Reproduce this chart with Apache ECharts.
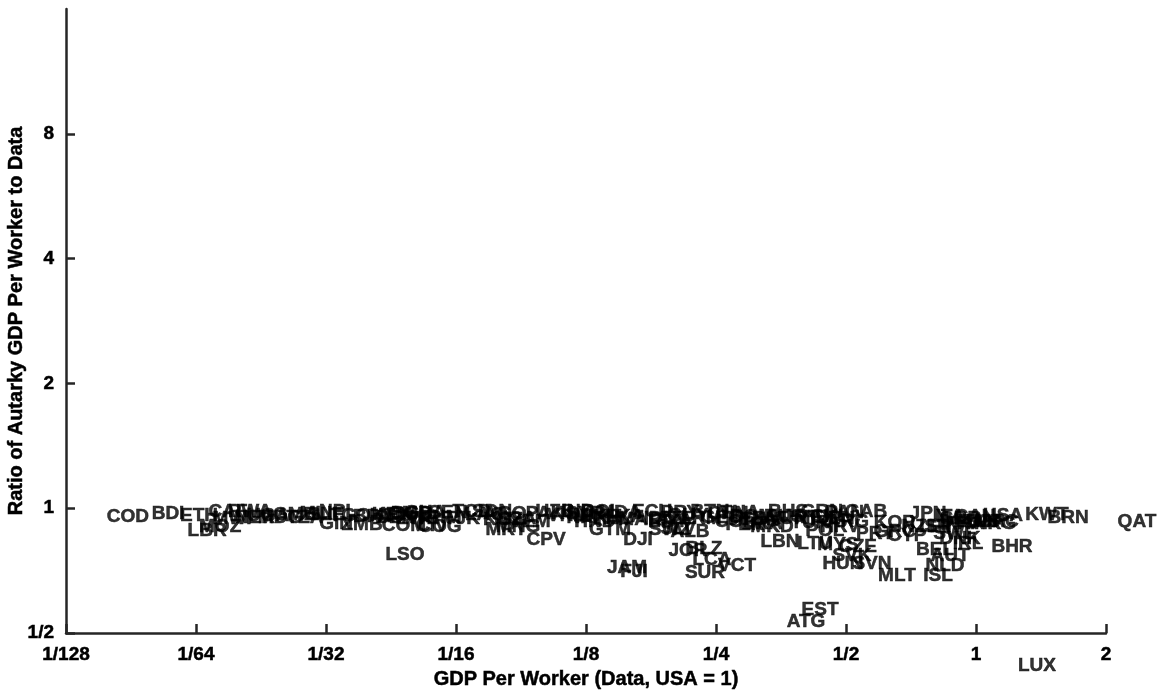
<!DOCTYPE html>
<html>
<head>
<meta charset="utf-8">
<script src="https://cdn.jsdelivr.net/npm/echarts@6/dist/echarts.min.js"></script>
<style>
html,body{margin:0;padding:0;background:#fff;}
#chart{width:1167px;height:696px;}
</style>
</head>
<body>
<div id="chart"></div>
<script>
// Country codes
const codes = ["COD","BDI","ETH","LBR","MOZ","CAF","MWI","RWA","NER","UGA","MDG","GMB","TZA","MLI","SLE","NPL","GIN","TGO","ZMB","BFA","HTI","BEN","KEN","CMR","COM","BGD","ZWE","GHA","CIV","KHM","SEN","LSO","TJK","TCD","LAO","SDN","KGZ","MRT","NGA","MNG","YEM","PAK","CPV","UZB","VNM","IND","NIC","HND","BOL","PHL","GTM","DJI","LKA","MAR","ECU","IDN","EGY","PRY","GUY","SLV","ARM","BTN","JOR","BLZ","LCA","VCT","SUR","JAM","FJI","SWZ","ALB","GEO","COL","PER","DOM","TUN","CHN","THA","BRA","MKD","LBN","BHS","RUS","ZAF","URY","TUR","MEX","GRN","LTU","MYS","CZE","POL","HRV","VEN","ARG","CHL","PAN","GAB","SVK","HUN","SVN","MLT","PRT","GRC","KOR","CYP","NZL","ISR","JPN","BEL","NLD","ISL","IRL","AUT","DNK","SWE","FIN","FRA","GBR","ITA","DEU","CAN","AUS","SGP","HKG","MAC","USA","KWT","BRN","QAT","BHR","EST","ATG","LUX","AGO","COG","SYR","UKR","MDA","AZE"];
// GDP per worker (data, USA = 1)
const gdpPerWorker = [0.01087,0.01346,0.01588,0.01658,0.01777,0.01853,0.01894,0.02083,0.02140,0.02294,0.02445,0.02650,0.02794,0.02963,0.03125,0.03332,0.03297,0.03554,0.03787,0.03994,0.04281,0.04515,0.04444,0.04890,0.04737,0.04944,0.05106,0.05300,0.05497,0.05738,0.05988,0.04763,0.06450,0.06806,0.07294,0.07575,0.08031,0.08163,0.08563,0.08700,0.09275,0.1005,0.1010,0.1060,0.1136,0.1198,0.1230,0.1311,0.1354,0.1436,0.1421,0.1649,0.1539,0.1667,0.1778,0.1855,0.1936,0.2063,0.2154,0.2042,0.2295,0.2421,0.2154,0.2345,0.2447,0.2797,0.2357,0.1555,0.1615,0.1956,0.2176,0.2580,0.2765,0.2918,0.3030,0.3160,0.2665,0.2843,0.3195,0.3370,0.3516,0.3670,0.3592,0.3333,0.3912,0.4126,0.4240,0.4398,0.4240,0.4790,0.5330,0.4469,0.4843,0.4714,0.5053,0.4590,0.4962,0.5563,0.5161,0.4920,0.5743,0.6560,0.5836,0.6491,0.6491,0.6922,0.7419,0.8039,0.7744,0.8039,0.8479,0.8168,0.9582,0.8706,0.9182,0.8939,0.8479,0.9428,0.9182,0.8706,0.9182,0.9947,1.0216,1.0492,1.1066,1.1184,1.1548,1.4601,1.6335,2.359,1.2116,0.4353,0.4040,1.3843,0.08113,0.05738,0.1243,0.1348,0.1499,0.2010];
// Ratio of autarky GDP per worker to data
const autarkyRatio = [0.951,0.967,0.957,0.880,0.900,0.983,0.941,0.983,0.946,0.957,0.946,0.962,0.946,0.967,0.962,0.983,0.915,0.957,0.910,0.951,0.957,0.946,0.962,0.967,0.905,0.967,0.941,0.973,0.905,0.946,0.973,0.771,0.941,0.983,0.962,0.983,0.936,0.885,0.941,0.900,0.930,0.967,0.837,0.978,0.957,0.978,0.946,0.930,0.983,0.941,0.885,0.837,0.951,0.936,0.983,0.941,0.930,0.973,0.957,0.890,0.941,0.983,0.788,0.797,0.749,0.725,0.697,0.717,0.701,0.885,0.875,0.946,0.930,0.910,0.951,0.936,0.967,0.973,0.915,0.900,0.828,0.983,0.951,0.941,0.941,0.920,0.946,0.983,0.819,0.815,0.806,0.880,0.900,0.941,0.930,0.951,0.973,0.983,0.766,0.733,0.733,0.686,0.866,0.875,0.920,0.856,0.900,0.900,0.967,0.792,0.725,0.686,0.819,0.766,0.842,0.866,0.900,0.915,0.941,0.951,0.930,0.951,0.930,0.930,0.915,0.930,0.957,0.962,0.946,0.930,0.806,0.568,0.531,0.417,0.967,0.900,0.967,0.951,0.973,0.941];
// Tick values
const xTicks = [1/128,1/64,1/32,1/16,1/8,1/4,1/2,1,2];
const yTicks = [1/2,1,2,4,8];

const FONT = "'Liberation Sans', Arial, Helvetica, sans-serif";
const TXT = { fontFamily: FONT, fontWeight: 'bold', color: '#000', textBorderColor: '#000', textBorderWidth: 0.5 };
function frac(v){
  if (v >= 1) return String(Math.round(v));
  return '1/' + Math.round(1 / v);
}
const points = codes.map((c, i) => ({ name: c, value: [gdpPerWorker[i], autarkyRatio[i]] }));

const chart = echarts.init(document.getElementById('chart'), null, { renderer: 'canvas' });
chart.setOption({
  animation: false,
  backgroundColor: '#ffffff',
  grid: { left: 66, right: 61, top: 9, bottom: 63, containLabel: false, outerBoundsMode: 'none' },
  xAxis: {
    type: 'log', logBase: 2, min: 1/128, max: 2, splitNumber: 8,
    name: 'GDP Per Worker (Data, USA = 1)', nameLocation: 'middle', nameGap: 36, nameMoveOverlap: false,
    nameTextStyle: Object.assign({ fontSize: 20 }, TXT),
    axisLine: { show: true, lineStyle: { color: '#262626', width: 2.5 } },
    axisTick: { show: true, inside: true, length: 9, lineStyle: { color: '#262626', width: 2.5 }, customValues: xTicks },
    axisLabel: Object.assign({ fontSize: 19, margin: 12, formatter: frac, customValues: xTicks, showMinLabel: true, showMaxLabel: true }, TXT),
    splitLine: { show: false }
  },
  yAxis: {
    type: 'log', logBase: 2, min: 1/2, max: 16, splitNumber: 5,
    name: 'Ratio of Autarky GDP Per Worker to Data', nameLocation: 'middle', nameGap: 40, nameMoveOverlap: false,
    nameTextStyle: Object.assign({ fontSize: 20 }, TXT),
    axisLine: { show: true, lineStyle: { color: '#262626', width: 2.5 } },
    axisTick: { show: true, inside: true, length: 9, lineStyle: { color: '#262626', width: 2.5 }, customValues: yTicks },
    axisLabel: Object.assign({ fontSize: 19, margin: 12, formatter: frac, customValues: yTicks }, TXT),
    splitLine: { show: false }
  },
  series: [{
    type: 'scatter',
    data: points,
    symbolSize: 0,
    clip: false,
    silent: true,
    label: Object.assign({ show: true, position: 'inside', offset: [0, 2.5], formatter: p => p.name, fontSize: 19 }, TXT),
    labelLayout: { hideOverlap: false }
  }]
});
</script>
</body>
</html>
